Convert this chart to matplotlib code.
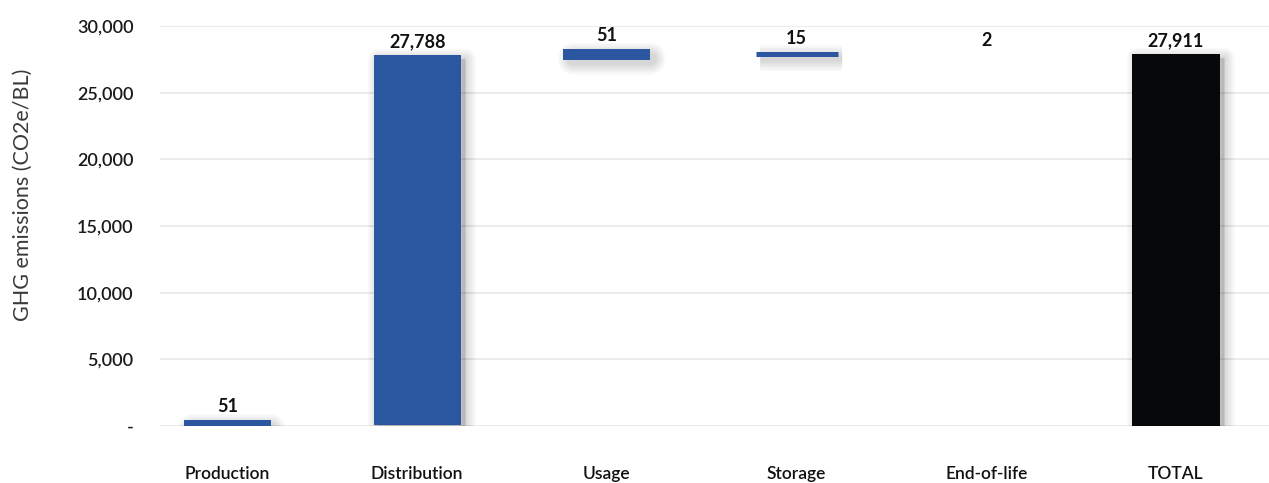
import matplotlib
matplotlib.use("Agg")
import matplotlib.pyplot as plt
import matplotlib.patheffects as pe
from matplotlib.ticker import FuncFormatter
import numpy as np

plt.rcParams["font.family"] = ["Lato", "DejaVu Sans"]

stages = ["Production", "Distribution", "Usage", "Storage", "End-of-life", "TOTAL"]
emissions = [51, 27788, 51, 15, 2]
total = 27911

BLUE = "#2b56a0"
BLACK = "#05090b"

values = np.array(emissions + [total])
bottoms = np.concatenate([[0], np.cumsum(emissions)[:-1], [0]])
colors = [BLUE] * len(emissions) + [BLACK]

# thin steps get a stroke in their own colour so they stay visible at this scale
stroke = [7.2, 0, 7.2, 3.6, 0, 0]

fig = plt.figure(figsize=(12.69, 4.83), dpi=100)
ax = fig.add_axes([0.126, 0.118, 0.874, 0.828])
x = np.arange(len(stages))
x0, x1 = -0.356, 5.49
ax.set_xlim(x0, x1)
ax.set_ylim(0, 30000)

px_per_unit = 0.874 * 1269 / (x1 - x0)
px_per_val = 0.828 * 483 / 30000
bar_w = 0.459

for xi, v, b, c, lw in zip(x, values, bottoms, colors, stroke):
    w = bar_w - (lw / 72 * 100) / px_per_unit
    effects = [pe.Normal()]
    # soft drop shadow, only for bars that actually show up
    if v * px_per_val + lw > 1:
        shadow = [pe.SimplePatchShadow(offset=(3, -3), shadow_rgbFace="k", alpha=0.018,
                                       linewidth=lw + s, joinstyle="round")
                  for s in (1, 3, 5, 7, 9, 11, 13, 15)]
        effects = shadow + effects
    ax.bar(xi, v, bottom=b, width=w, color=c, edgecolor=c, linewidth=lw,
           zorder=3, path_effects=effects)
    ax.annotate(f"{v:,}", (xi, b + v), xytext=(0, 3.6 + lw / 2),
                textcoords="offset points", ha="center", va="bottom",
                fontsize=13, fontweight="bold", color="#111111", zorder=4)

ax.set_xticks(x)
ax.set_xticklabels(stages, fontsize=12.5, fontweight="semibold", color="#111111")
ax.set_yticks(np.arange(0, 30001, 5000))
ax.yaxis.set_major_formatter(FuncFormatter(lambda v, _: "-" if v == 0 else f"{v:,.0f}"))
for t in ax.get_yticklabels():
    t.set_fontsize(13)
    t.set_fontweight("semibold")
    t.set_color("#1a1a1a")
ax.tick_params(axis="both", length=0)
ax.tick_params(axis="y", pad=19)
ax.tick_params(axis="x", pad=29)

ax.set_axisbelow(True)
ax.yaxis.grid(True, color="#e6e6e6", linewidth=1.1)
for s in ax.spines.values():
    s.set_visible(False)

fig.text(0.018, 0.597, "GHG emissions (CO2e/BL)", rotation=90, ha="center", va="center",
         fontsize=15.5, color="#3a3a3a")

fig.savefig("out.png", dpi=100)
